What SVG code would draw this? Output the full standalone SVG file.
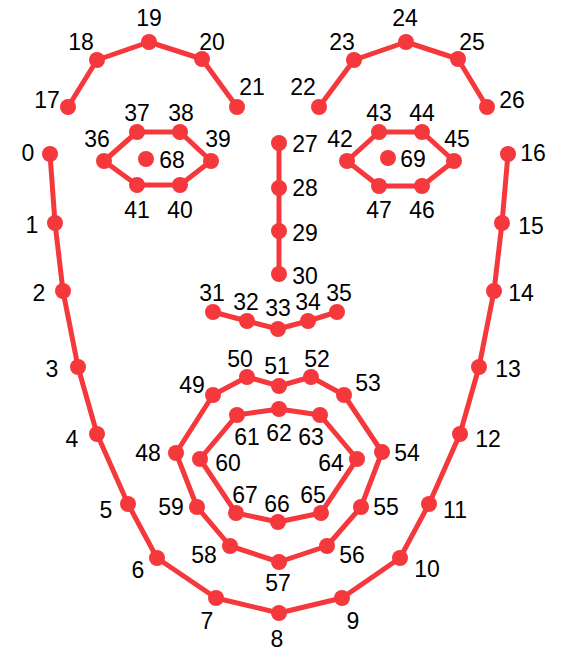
<svg xmlns="http://www.w3.org/2000/svg" width="570" height="653" viewBox="0 0 570 653">
<style>
.e{fill:none;stroke:#f5383c;stroke-width:5;stroke-linejoin:round;stroke-linecap:round}
.n circle{fill:#f5383c}
.n text{font-family:"Liberation Sans",Arial,sans-serif;font-size:23px;fill:#000;text-anchor:middle}
</style>
<rect width="570" height="653" fill="#fff"/>
<g id="connectors">
<polyline class="e" points="50,154 55,223 63,291 78,367 97,434 128,504 157,558 216,598 279,613 342,598 400,558 429,504 460,434 479,367 494,291 502,223 508,154"/>
<polyline class="e" points="68,107 97,60 149,42 202,59 237,107"/>
<polyline class="e" points="319,107 354,60 406,42 458,59 487,107"/>
<polyline class="e" points="279,143 279,188 279,231 279,274"/>
<polyline class="e" points="213,312 247,321 278,329 308,321 337,312"/>
<polygon class="e" points="104,161 137,132 180,132 211,161 180,185 137,185"/>
<polygon class="e" points="347,161 379,132 422,132 454,161 422,186 379,186"/>
<polygon class="e" points="176,453 213,395 247,377 279,386 311,377 344,395 382,452 361,507 327,546 279,562 230,546 197,507"/>
<polygon class="e" points="200,459 237,415 279,409 320,415 357,459 321,513 278,522 236,513"/>
</g>
<g id="p0" class="n"><circle cx="50" cy="154" r="8"/><text x="28" y="161">0</text></g>
<g id="p1" class="n"><circle cx="55" cy="223" r="8"/><text x="32" y="233">1</text></g>
<g id="p2" class="n"><circle cx="63" cy="291" r="8"/><text x="39" y="301">2</text></g>
<g id="p3" class="n"><circle cx="78" cy="367" r="8"/><text x="52" y="377">3</text></g>
<g id="p4" class="n"><circle cx="97" cy="434" r="8"/><text x="72" y="447">4</text></g>
<g id="p5" class="n"><circle cx="128" cy="504" r="8"/><text x="106" y="518">5</text></g>
<g id="p6" class="n"><circle cx="157" cy="558" r="8"/><text x="138" y="578">6</text></g>
<g id="p7" class="n"><circle cx="216" cy="598" r="8"/><text x="207" y="629">7</text></g>
<g id="p8" class="n"><circle cx="279" cy="613" r="8"/><text x="277" y="647">8</text></g>
<g id="p9" class="n"><circle cx="342" cy="598" r="8"/><text x="353" y="629">9</text></g>
<g id="p10" class="n"><circle cx="400" cy="558" r="8"/><text x="427" y="577">10</text></g>
<g id="p11" class="n"><circle cx="429" cy="504" r="8"/><text x="455" y="518">11</text></g>
<g id="p12" class="n"><circle cx="460" cy="434" r="8"/><text x="488" y="447">12</text></g>
<g id="p13" class="n"><circle cx="479" cy="367" r="8"/><text x="508" y="377">13</text></g>
<g id="p14" class="n"><circle cx="494" cy="291" r="8"/><text x="521" y="301">14</text></g>
<g id="p15" class="n"><circle cx="502" cy="223" r="8"/><text x="531" y="234">15</text></g>
<g id="p16" class="n"><circle cx="508" cy="154" r="8"/><text x="533" y="161">16</text></g>
<g id="p17" class="n"><circle cx="68" cy="107" r="8"/><text x="47" y="108">17</text></g>
<g id="p18" class="n"><circle cx="97" cy="60" r="8"/><text x="81" y="50">18</text></g>
<g id="p19" class="n"><circle cx="149" cy="42" r="8"/><text x="149" y="26">19</text></g>
<g id="p20" class="n"><circle cx="202" cy="59" r="8"/><text x="212" y="50">20</text></g>
<g id="p21" class="n"><circle cx="237" cy="107" r="8"/><text x="252" y="95">21</text></g>
<g id="p22" class="n"><circle cx="319" cy="107" r="8"/><text x="303" y="95">22</text></g>
<g id="p23" class="n"><circle cx="354" cy="60" r="8"/><text x="342" y="50">23</text></g>
<g id="p24" class="n"><circle cx="406" cy="42" r="8"/><text x="405" y="26">24</text></g>
<g id="p25" class="n"><circle cx="458" cy="59" r="8"/><text x="472" y="50">25</text></g>
<g id="p26" class="n"><circle cx="487" cy="107" r="8"/><text x="512" y="108">26</text></g>
<g id="p27" class="n"><circle cx="279" cy="143" r="8"/><text x="305" y="152">27</text></g>
<g id="p28" class="n"><circle cx="279" cy="188" r="8"/><text x="305" y="196">28</text></g>
<g id="p29" class="n"><circle cx="279" cy="231" r="8"/><text x="305" y="241">29</text></g>
<g id="p30" class="n"><circle cx="279" cy="274" r="8"/><text x="305" y="284">30</text></g>
<g id="p31" class="n"><circle cx="213" cy="312" r="8"/><text x="212" y="301">31</text></g>
<g id="p32" class="n"><circle cx="247" cy="321" r="8"/><text x="246" y="310">32</text></g>
<g id="p33" class="n"><circle cx="278" cy="329" r="8"/><text x="278" y="316">33</text></g>
<g id="p34" class="n"><circle cx="308" cy="321" r="8"/><text x="308" y="310">34</text></g>
<g id="p35" class="n"><circle cx="337" cy="312" r="8"/><text x="339" y="301">35</text></g>
<g id="p36" class="n"><circle cx="104" cy="161" r="8"/><text x="97" y="147">36</text></g>
<g id="p37" class="n"><circle cx="137" cy="132" r="8"/><text x="137" y="121">37</text></g>
<g id="p38" class="n"><circle cx="180" cy="132" r="8"/><text x="181" y="121">38</text></g>
<g id="p39" class="n"><circle cx="211" cy="161" r="8"/><text x="218" y="147">39</text></g>
<g id="p40" class="n"><circle cx="180" cy="185" r="8"/><text x="180" y="218">40</text></g>
<g id="p41" class="n"><circle cx="137" cy="185" r="8"/><text x="137" y="218">41</text></g>
<g id="p42" class="n"><circle cx="347" cy="161" r="8"/><text x="340" y="147">42</text></g>
<g id="p43" class="n"><circle cx="379" cy="132" r="8"/><text x="379" y="121">43</text></g>
<g id="p44" class="n"><circle cx="422" cy="132" r="8"/><text x="422" y="121">44</text></g>
<g id="p45" class="n"><circle cx="454" cy="161" r="8"/><text x="457" y="147">45</text></g>
<g id="p46" class="n"><circle cx="422" cy="186" r="8"/><text x="422" y="218">46</text></g>
<g id="p47" class="n"><circle cx="379" cy="186" r="8"/><text x="379" y="218">47</text></g>
<g id="p48" class="n"><circle cx="176" cy="453" r="8"/><text x="148" y="461">48</text></g>
<g id="p49" class="n"><circle cx="213" cy="395" r="8"/><text x="192" y="393">49</text></g>
<g id="p50" class="n"><circle cx="247" cy="377" r="8"/><text x="240" y="367">50</text></g>
<g id="p51" class="n"><circle cx="279" cy="386" r="8"/><text x="277" y="374">51</text></g>
<g id="p52" class="n"><circle cx="311" cy="377" r="8"/><text x="317" y="367">52</text></g>
<g id="p53" class="n"><circle cx="344" cy="395" r="8"/><text x="368" y="391">53</text></g>
<g id="p54" class="n"><circle cx="382" cy="452" r="8"/><text x="407" y="461">54</text></g>
<g id="p55" class="n"><circle cx="361" cy="507" r="8"/><text x="386" y="515">55</text></g>
<g id="p56" class="n"><circle cx="327" cy="546" r="8"/><text x="352" y="563">56</text></g>
<g id="p57" class="n"><circle cx="279" cy="562" r="8"/><text x="278" y="591">57</text></g>
<g id="p58" class="n"><circle cx="230" cy="546" r="8"/><text x="204" y="563">58</text></g>
<g id="p59" class="n"><circle cx="197" cy="507" r="8"/><text x="171" y="515">59</text></g>
<g id="p60" class="n"><circle cx="200" cy="459" r="8"/><text x="228" y="471">60</text></g>
<g id="p61" class="n"><circle cx="237" cy="415" r="8"/><text x="247" y="445">61</text></g>
<g id="p62" class="n"><circle cx="279" cy="409" r="8"/><text x="279" y="441">62</text></g>
<g id="p63" class="n"><circle cx="320" cy="415" r="8"/><text x="311" y="445">63</text></g>
<g id="p64" class="n"><circle cx="357" cy="459" r="8"/><text x="331" y="471">64</text></g>
<g id="p65" class="n"><circle cx="321" cy="513" r="8"/><text x="313" y="503">65</text></g>
<g id="p66" class="n"><circle cx="278" cy="522" r="8"/><text x="277" y="512">66</text></g>
<g id="p67" class="n"><circle cx="236" cy="513" r="8"/><text x="245" y="503">67</text></g>
<g id="p68" class="n"><circle cx="146" cy="159" r="8"/><text x="172" y="168">68</text></g>
<g id="p69" class="n"><circle cx="388" cy="158" r="8"/><text x="413" y="167">69</text></g>
</svg>
